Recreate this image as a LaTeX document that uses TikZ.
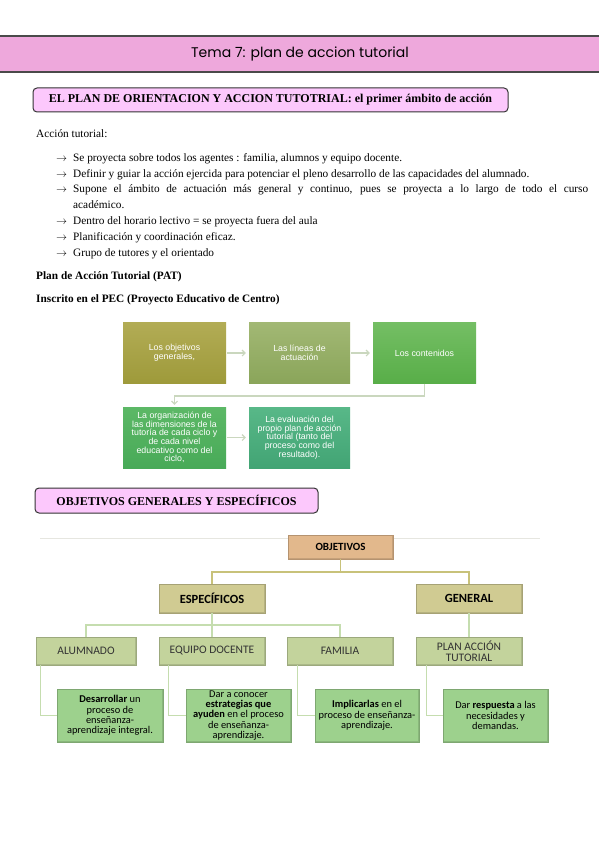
\documentclass[tikz,border=0pt]{standalone}
\usepackage{fontspec}
\setmainfont{Liberation Serif}
\newfontfamily\flowfont{Liberation Sans}
\newfontfamily\calfont{Carlito}
\newfontfamily\titlefont{Poppins}
\usetikzlibrary{arrows.meta,calc}
\definecolor{titlepink}{HTML}{EEA8DC}
\definecolor{titleedge}{HTML}{4A4A4A}
\definecolor{hdrpink}{HTML}{FCC8FC}
\definecolor{fAtop}{HTML}{B2AC55}
\definecolor{fAbot}{HTML}{9E9A3A}
\definecolor{fBtop}{HTML}{A2B874}
\definecolor{fBbot}{HTML}{8AA55A}
\definecolor{fCtop}{HTML}{74BE64}
\definecolor{fCbot}{HTML}{58AE48}
\definecolor{fDtop}{HTML}{5CB866}
\definecolor{fDbot}{HTML}{48AA58}
\definecolor{fEtop}{HTML}{58B888}
\definecolor{fEbot}{HTML}{42A474}
\definecolor{flowarrow}{HTML}{CAD7BE}
\definecolor{objtan}{HTML}{E2B88C}
\definecolor{khaki}{HTML}{D0CB92}
\definecolor{sage}{HTML}{C3D39C}
\definecolor{leafgreen}{HTML}{9DD18D}
\definecolor{olivecon}{HTML}{C8C27A}
\definecolor{greencon}{HTML}{C5DDAF}
\definecolor{faintline}{HTML}{E6E6E0}
\tikzset{
  hdr/.style={draw=black!80, line width=1pt, rounded corners=4pt, fill=hdrpink,
    font=\bfseries\fontsize{12}{14}\selectfont, inner sep=0pt},
  bodytxt/.style={anchor=base west, inner sep=0pt, font=\fontsize{11.3}{13}\selectfont},
  arrtxt/.style={anchor=base west, inner sep=0pt, font=\fontsize{11.3}{13}\selectfont},
  flowbox/.style={minimum height=61pt, inner sep=1pt, text=white, align=center,
    font=\flowfont\fontsize{8.8}{8.7}\selectfont},
  flowarr/.style={draw=flowarrow, line width=1.1pt, -{Straight Barb[length=3pt,width=6pt]}},
  bevel/.style={draw=#1!80!black, line width=0.6pt, fill=#1, inner sep=1pt, align=center,
    path picture={
      \draw[white, opacity=0.45, line width=2.4pt]
        (path picture bounding box.south west) -- (path picture bounding box.north west)
        -- (path picture bounding box.north east);
      \draw[black, opacity=0.12, line width=2.4pt]
        (path picture bounding box.north east) -- (path picture bounding box.south east)
        -- (path picture bounding box.south west);}},
  objbox/.style={bevel=objtan, minimum width=105pt, minimum height=24pt,
    font=\calfont\bfseries\fontsize{11}{12}\selectfont},
  lvltwo/.style={bevel=khaki, minimum width=106pt, minimum height=29pt,
    font=\calfont\bfseries\fontsize{12.5}{13}\selectfont},
  lvlthree/.style={bevel=sage, minimum height=28pt, text=black!80,
    font=\calfont\fontsize{11.5}{11.2}\selectfont},
  leaf/.style={bevel=leafgreen, minimum height=53pt, text=black, inner sep=0.5pt,
    font=\calfont\fontsize{10.4}{10.3}\selectfont},
  conone/.style={draw=olivecon, line width=1.1pt},
  contwo/.style={draw=greencon, line width=1.1pt}
}
\begin{document}
\begin{tikzpicture}[x=1pt,y=-1pt]
\useasboundingbox (0,0) rectangle (599,848);
\fill[white] (0,0) rectangle (599,848);
% title band
\fill[titlepink] (0,36) rectangle (599,72);
\draw[titleedge, line width=1.6pt] (0,36) -- (599,36);
\draw[titleedge, line width=1.8pt] (0,72) -- (599,72);
\node[font=\titlefont\fontsize{14}{18}\selectfont] (title) at (300,54) {Tema 7: plan de accion tutorial};
% header 1
\node[hdr, minimum width=475pt, minimum height=24pt] (h1) at (270.5,100)
  {EL PLAN DE ORIENTACION Y ACCION TUTOTRIAL: el primer ámbito de acción};
% body text
\node[bodytxt] (t0) at (36,138) {Acción tutorial:};
\node[arrtxt] (a1) at (56,161) {$\rightarrow$};
\node[bodytxt] (b1) at (73,161) {Se proyecta sobre todos los agentes : familia, alumnos y equipo docente.};
\node[arrtxt] (a2) at (56,177) {$\rightarrow$};
\node[bodytxt] (b2) at (73,177) {Definir y guiar la acción ejercida para potenciar el pleno desarrollo de las capacidades del alumnado.};
\node[arrtxt] (a3) at (56,192) {$\rightarrow$};
\node[bodytxt] (b3) at (73,192) {\makebox[515pt][s]{Supone el ámbito de actuación más general y continuo, pues se proyecta a lo largo de todo el curso}};
\node[bodytxt] (b3b) at (73,208) {académico.};
\node[arrtxt] (a4) at (56,224) {$\rightarrow$};
\node[bodytxt] (b4) at (73,224) {Dentro del horario lectivo = se proyecta fuera del aula};
\node[arrtxt] (a5) at (56,240) {$\rightarrow$};
\node[bodytxt] (b5) at (73,240) {Planificación y coordinación eficaz.};
\node[arrtxt] (a6) at (56,256) {$\rightarrow$};
\node[bodytxt] (b6) at (73,256) {Grupo de tutores y el orientado};
\node[bodytxt, font=\bfseries\fontsize{11.3}{13}\selectfont] (pat) at (36,279) {Plan de Acción Tutorial (PAT)};
\node[bodytxt, font=\bfseries\fontsize{11.3}{13}\selectfont] (pec) at (36,302) {Inscrito en el PEC (Proyecto Educativo de Centro)};
% flow chart
\node[flowbox, minimum width=103pt, top color=fAtop, bottom color=fAbot] (fa) at (174.5,353) {Los objetivos\\generales,};
\node[flowbox, minimum width=101pt, top color=fBtop, bottom color=fBbot] (fb) at (299.5,353) {Las líneas de\\actuación};
\node[flowbox, minimum width=103pt, top color=fCtop, bottom color=fCbot] (fc) at (424.5,353) {Los contenidos};
\node[flowbox, minimum width=103pt, top color=fDtop, bottom color=fDbot] (fd) at (174.5,437.5)
  {La organización de\\las dimensiones de la\\tutoría de cada ciclo y\\de cada nivel\\educativo como del\\ciclo,};
\node[flowbox, minimum width=101pt, top color=fEtop, bottom color=fEbot] (fe) at (299.5,437.5)
  {La evaluación del\\propio plan de acción\\tutorial (tanto del\\proceso como del\\resultado).};
\draw[flowarr] ([xshift=1pt]fa.east) -- ([xshift=-3pt]fb.west);
\draw[flowarr] ([xshift=1pt]fb.east) -- ([xshift=-3pt]fc.west);
\coordinate (cd) at (174.5,396);
\draw[flowarr] (fc.south) |- (cd) -- ([yshift=2pt]fd.north);
\draw[flowarr] ([xshift=1pt]fd.east) -- ([xshift=-3pt]fe.west);
% header 2
\node[hdr, minimum width=283pt, minimum height=25pt] (h2) at (176.5,500.5)
  {OBJETIVOS GENERALES Y ESPECÍFICOS};
% org chart
\coordinate (fl1) at (40,538);
\coordinate (fl2) at (540,538);
\draw[faintline, line width=0.8pt] (fl1) -- (fl2);
\node[objbox] (obj) at (340.5,547) {OBJETIVOS};
\node[lvltwo] (esp) at (212,598.5) {ESPECÍFICOS};
\node[lvltwo] (gen) at (469,598.5) {GENERAL};
\node[lvlthree, minimum width=100pt] (alu) at (86,651) {ALUMNADO};
\node[lvlthree, minimum width=106pt] (equ) at (212,651) {EQUIPO DOCENTE};
\node[lvlthree, minimum width=106pt] (fam) at (340,651) {FAMILIA};
\node[lvlthree, minimum width=106pt] (pla) at (469,651) {PLAN ACCIÓN\\TUTORIAL};
\node[leaf, minimum width=106pt] (l1) at (110,715.5) {\textbf{Desarrollar} un\\proceso de\\enseñanza-\\aprendizaje integral.};
\node[leaf, minimum width=105pt] (l2) at (238.5,715.5) {Dar a conocer\\\textbf{estrategias que}\\\textbf{ayuden} en el proceso\\de enseñanza-\\aprendizaje.};
\node[leaf, minimum width=104pt] (l3) at (367,715.5) {\textbf{Implicarlas} en el\\proceso de enseñanza-\\aprendizaje.};
\node[leaf, minimum width=105pt] (l4) at (495.5,715.5) {Dar \textbf{respuesta} a las\\necesidades y\\demandas.};
% level 1 connectors
\coordinate (j1) at (340.5,572);
\draw[conone] (obj.south) -- (j1);
\draw[conone] (esp.north) |- (j1) -| (gen.north);
% level 2 connectors
\coordinate (j2) at (212,625);
\draw[contwo] (esp.south) -- (j2) -- (equ.north);
\draw[contwo] (alu.north) |- (j2) -| (fam.north);
\draw[contwo] (gen.south) -- (pla.north);
% level 3 connectors
\draw[contwo] ([xshift=5pt]alu.south west) |- (l1.west);
\draw[contwo] ([xshift=10pt]equ.south west) |- (l2.west);
\draw[contwo] ([xshift=11pt]fam.south west) |- (l3.west);
\draw[contwo] ([xshift=11pt]pla.south west) |- (l4.west);
\end{tikzpicture}
\end{document}
